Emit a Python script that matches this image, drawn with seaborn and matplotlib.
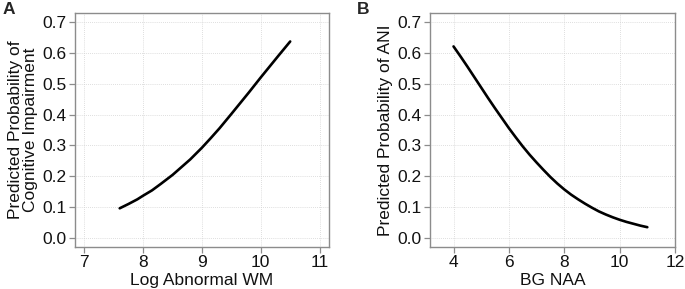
import numpy as np
import pandas as pd
import matplotlib
matplotlib.use("Agg")
import matplotlib.pyplot as plt
import seaborn as sns

# Panel A data
wm_x = [7.6, 7.75, 7.9, 8.0, 8.15, 8.3, 8.5, 8.65, 8.8, 9.0, 9.15, 9.3, 9.5, 9.65, 9.8, 10.0, 10.15, 10.3, 10.5]
wm_p = [0.097, 0.111, 0.126, 0.138, 0.155, 0.176, 0.205, 0.230, 0.255, 0.293, 0.324, 0.356, 0.402, 0.437, 0.472, 0.520, 0.555, 0.590, 0.636]

# Panel B data
naa_x = [4.0, 4.25, 4.5, 4.75, 5.0, 5.25, 5.5, 5.75, 6.0, 6.25, 6.5, 6.75, 7.0, 7.25, 7.5, 7.75, 8.0,
         8.25, 8.5, 8.75, 9.0, 9.25, 9.5, 9.75, 10.0, 10.25, 10.5, 10.75, 11.0]
naa_p = [0.620, 0.588, 0.555, 0.521, 0.487, 0.453, 0.420, 0.388, 0.356, 0.326, 0.297, 0.270, 0.245, 0.221,
         0.198, 0.177, 0.158, 0.141, 0.126, 0.112, 0.099, 0.087, 0.077, 0.068, 0.060, 0.053, 0.047, 0.041, 0.036]

yticks = [0.0, 0.1, 0.2, 0.3, 0.4, 0.5, 0.6, 0.7]
xticks_a = [7, 8, 9, 10, 11]
xticks_b = [4, 6, 8, 10, 12]

sns.set_theme(style="white")
plt.rcParams['font.family'] = ['Liberation Sans', 'DejaVu Sans']

fig = plt.figure(figsize=(6.85, 2.89), dpi=100)
axA = fig.add_axes([75/685, 42/289, 254/685, 234/289])
axB = fig.add_axes([430/685, 42/289, 245/685, 234/289])

dfA = pd.DataFrame({"x": wm_x, "p": wm_p})
dfB = pd.DataFrame({"x": naa_x, "p": naa_p})

sns.lineplot(data=dfA, x="x", y="p", ax=axA, color="black", linewidth=1.9)
sns.lineplot(data=dfB, x="x", y="p", ax=axB, color="black", linewidth=1.9)

frame_col = "#8c8c8c"
for ax, xt, xl, ylab, xlab in [
    (axA, xticks_a, (6.84, 11.16), "Predicted Probability of\nCognitive Impairment", "Log Abnormal WM"),
    (axB, xticks_b, (3.15, 12.0), "Predicted Probability of ANI", "BG NAA"),
]:
    ax.set_xlim(*xl)
    ax.set_ylim(-0.028, 0.728)
    ax.set_xticks(xt)
    ax.set_yticks(yticks)
    ax.set_yticklabels([f"{v:.1f}" for v in yticks])
    ax.grid(True, color="#d4d4d4", linestyle=(0, (1, 1.5)), linewidth=0.6)
    for s in ax.spines.values():
        s.set_color(frame_col)
        s.set_linewidth(1.0)
    ax.tick_params(axis="both", direction="out", length=4, width=0.9, color=frame_col,
                   labelsize=12.5, labelcolor="#111111", pad=2, bottom=True, left=True)
    ax.set_xlabel(xlab, fontsize=12.5, color="#111111", labelpad=2)
    ax.set_ylabel(ylab, fontsize=12.5, color="#111111", labelpad=3, linespacing=1.0)

fig.text(3/685, 1 - 2/289, "A", fontsize=12.5, fontweight="bold", va="top", ha="left")
fig.text(357/685, 1 - 2/289, "B", fontsize=12.5, fontweight="bold", va="top", ha="left")

fig.savefig("out.png", dpi=100)
